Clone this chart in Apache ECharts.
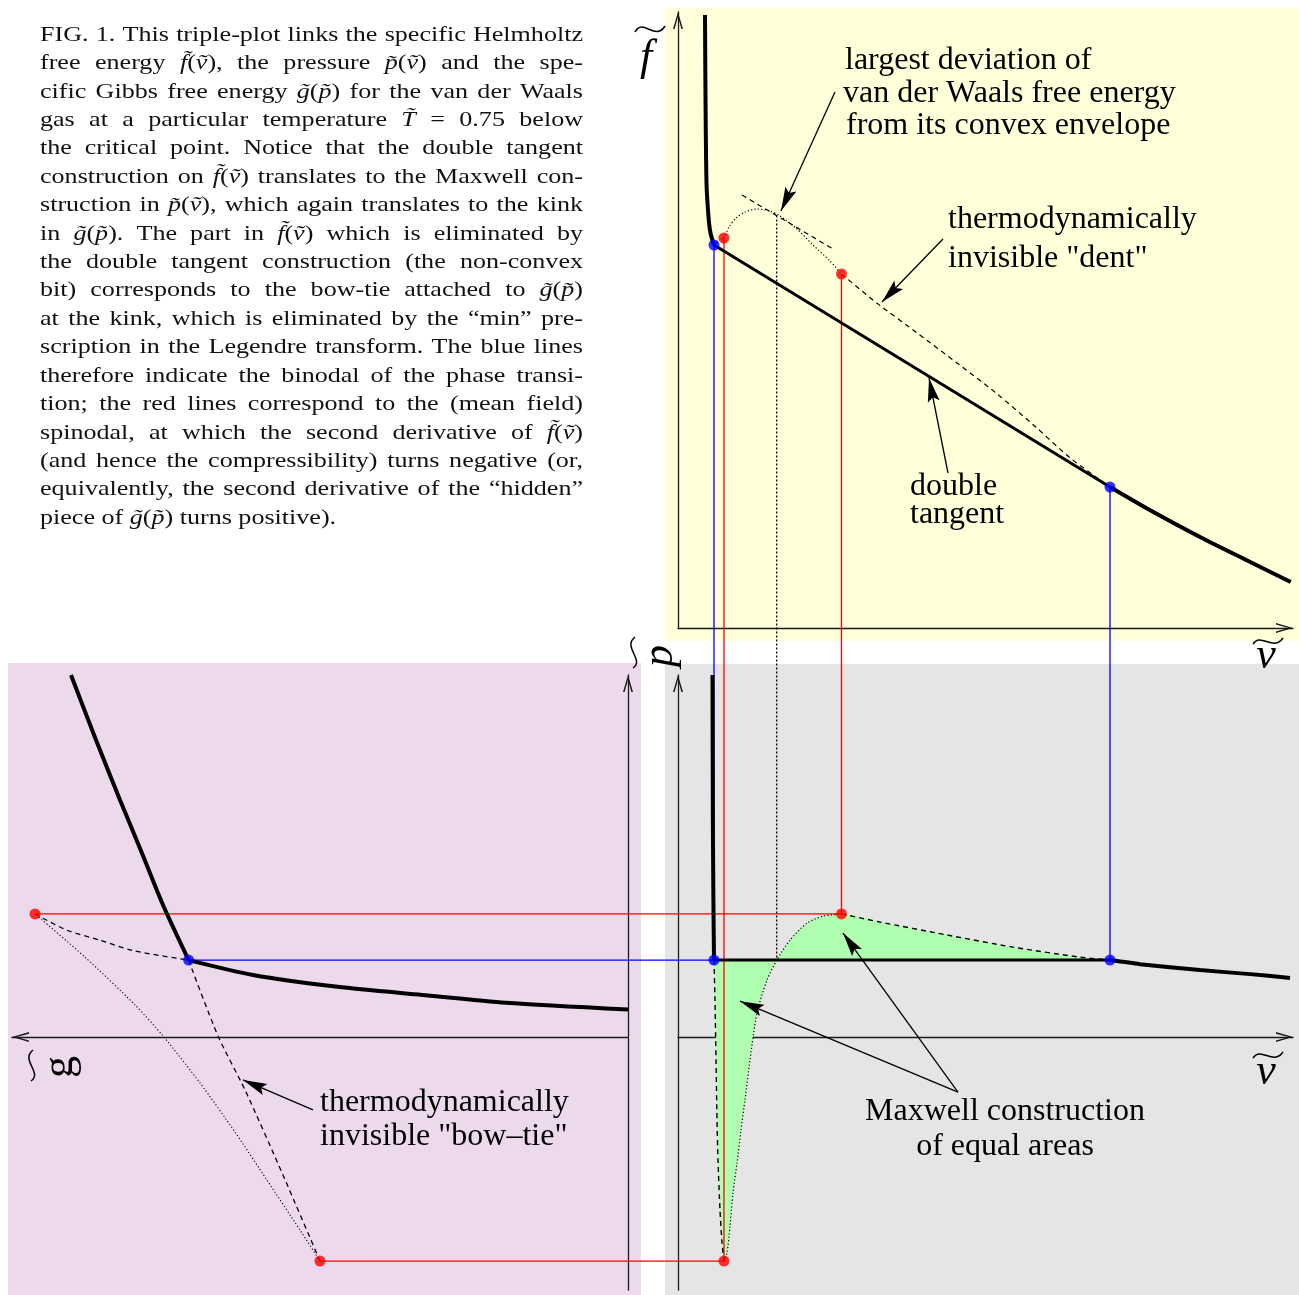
<!DOCTYPE html>
<html>
<head>
<meta charset="utf-8" />
<title>van der Waals triple plot</title>
<script src="https://cdn.jsdelivr.net/npm/echarts@6.0.0/dist/echarts.min.js"></script>
<style>
  html, body { margin: 0; padding: 0; background: #fff; }
  #main { width: 1299px; height: 1295px; }
</style>
</head>
<body>
<div id="main"></div>
<script>
// ---- f~(v~) panel : [v, f] ----
var fLiquid = [[0.36, 6.13], [0.367, 5.28], [0.38, 4.45], [0.407, 4.11], [0.433, 3.95], [0.48, 3.83]];
var fGas = [[5.76, 1.41], [6.29, 1.18], [6.96, 0.91], [7.63, 0.66], [8.17, 0.46]];
var fMetaLiquid = [[0.48, 3.83], [0.547, 3.88], [0.613, 3.90]];
var fUnstable = [[0.613, 3.90], [0.68, 4.01], [0.773, 4.10], [0.893, 4.16], [1.053, 4.19], [1.227, 4.17],
  [1.36, 4.12], [1.587, 3.99], [1.8, 3.83], [2.027, 3.67], [2.18, 3.54]];
var fMetaGas = [[2.18, 3.54], [2.65, 3.25], [3.19, 2.95], [3.72, 2.65], [4.24, 2.35], [4.77, 2.01], [5.23, 1.70], [5.76, 1.41]];
var fDevTangent = [[0.853, 4.33], [2.067, 3.79]];
var fBinodal = [[0.48, 3.83], [5.76, 1.41]];
var fSpinodal = [[0.613, 3.90], [2.18, 3.54]];
var fMaxDev = [1.316, 4.125];

// ---- p~(v~) panel : [v, p] ----
var pLiquid = [[0.46, 1.341], [0.465, 0.80], [0.472, 0.51], [0.48, 0.285]];
var pGas = [[5.76, 0.285], [6.16, 0.270], [6.96, 0.248], [7.63, 0.233], [8.16, 0.219]];
var pMetaLiquid = [[0.48, 0.285], [0.493, 0.137], [0.507, -0.085], [0.52, -0.307], [0.533, -0.456],
  [0.56, -0.641], [0.587, -0.763], [0.613, -0.83]];
var pUnstable = [[0.613, -0.83], [0.653, -0.80], [0.693, -0.704], [0.733, -0.578], [0.787, -0.467],
  [0.84, -0.344], [0.893, -0.233], [0.96, -0.085], [1.053, 0.089], [1.187, 0.211], [1.316, 0.285],
  [1.493, 0.359], [1.72, 0.422], [1.933, 0.448], [2.18, 0.456]];
var pMetaGas = [[2.18, 0.456], [2.693, 0.426], [3.587, 0.378], [4.467, 0.333], [5.36, 0.296], [5.76, 0.285]];
var pBinodal = [[0.48, 0.285], [5.76, 0.285]];
var pSpinodal = [[0.613, -0.83], [2.18, 0.456]];
var pMaxDev = [1.316, 0.285];

// ---- g~(p~) panel : [g, p] ----
var gLiquid = [[5.57, 1.341], [5.32, 1.10], [5.08, 0.878], [4.86, 0.681], [4.65, 0.489], [4.394, 0.285]];
var gGas = [[4.394, 0.285], [3.75, 0.230], [2.904, 0.186], [2.06, 0.156], [1.22, 0.127], [0, 0.102]];
var gMetaGas = [[5.93, 0.456], [5.613, 0.396], [5.28, 0.359], [4.95, 0.320], [4.394, 0.285]];
var gMetaLiquid = [[4.394, 0.285], [4.10, 0.004], [3.83, -0.196], [3.45, -0.511], [3.08, -0.83]];
var gUnstable = [[3.08, -0.83], [3.28, -0.715], [3.61, -0.530], [3.93, -0.352], [4.28, -0.170],
  [4.65, 0.004], [4.93, 0.119], [5.43, 0.296], [5.93, 0.456]];
var gBinodal = [4.394, 0.285];
var gSpinodal = [[3.08, -0.83], [5.93, 0.456]];

// annotation pointers [tail, tip] in panel units
var fPointers = [[[2.093, 5.36], [1.373, 4.17]], [[3.533, 3.89], [2.72, 3.26]], [[3.6, 1.55], [3.347, 2.50]]];
var pPointers = [[[3.733, -0.204], [0.827, 0.133]], [[3.733, -0.204], [2.2, 0.385]]];
var gPointers = [[[3.15, -0.27], [3.85, -0.159]]];

var noteLines = ['largest deviation of', 'van der Waals free energy', 'from its convex envelope',
  'thermodynamically', 'invisible "dent"', 'double', 'tangent',
  'Maxwell construction', 'of equal areas', 'thermodynamically', 'invisible "bow\u2013tie"'];

var capLines = [
  'FIG. 1. This triple-plot links the specific Helmholtz',
  'free energy *f\u0303*(*v\u0303*), the pressure *p\u0303*(*v\u0303*) and the spe-',
  'cific Gibbs free energy *g\u0303*(*p\u0303*) for the van der Waals',
  'gas at a particular temperature *T\u0303* = 0.75 below',
  'the critical point. Notice that the double tangent',
  'construction on *f\u0303*(*v\u0303*) translates to the Maxwell con-',
  'struction in *p\u0303*(*v\u0303*), which again translates to the kink',
  'in *g\u0303*(*p\u0303*). The part in *f\u0303*(*v\u0303*) which is eliminated by',
  'the double tangent construction (the non-convex',
  'bit) corresponds to the bow-tie attached to *g\u0303*(*p\u0303*)',
  'at the kink, which is eliminated by the \u201cmin\u201d pre-',
  'scription in the Legendre transform. The blue lines',
  'therefore indicate the binodal of the phase transi-',
  'tion; the red lines correspond to the (mean field)',
  'spinodal, at which the second derivative of *f\u0303*(*v\u0303*)',
  '(and hence the compressibility) turns negative (or,',
  'equivalently, the second derivative of the \u201chidden\u201d',
  'piece of *g\u0303*(*p\u0303*) turns positive).'
];

var BLUE = '#0000ff', RED = '#ff0000', INK = '#000';
var DOTTED = [1.2, 2.2], DASHED = [5, 4];
var CHEVRON = 'path://M0,17 L5,0 L10,17 L8.4,17 L5,4.8 L1.6,17 Z';
var ARROWHEAD = 'path://M5,0 L10,22 L5,18 L0,22 Z';
var SERIF = '"Liberation Serif", "Times New Roman", serif';

function curve(grid, data, width, type, smooth) {
  return { type: 'line', xAxisIndex: grid, yAxisIndex: grid, data: data, symbol: 'none', clip: false,
    silent: true, z: 3, emphasis: { disabled: true }, smooth: smooth || false,
    lineStyle: { color: INK, width: width, type: type || 'solid' } };
}
function dots(grid, data, color) {
  return { type: 'scatter', xAxisIndex: grid, yAxisIndex: grid, data: data, symbolSize: 11, clip: false,
    silent: true, z: 6, itemStyle: { color: color } };
}
function pointers(grid, list) {
  return { type: 'line', xAxisIndex: grid, yAxisIndex: grid, data: [], symbol: 'none', silent: true, z: 4,
    markLine: { silent: true, animation: false, symbol: ['none', 'none'], label: { show: false },
      emphasis: { disabled: true }, lineStyle: { color: INK, width: 1.3, type: 'solid' },
      data: list.map(function (a) {
        return [{ coord: a[0] }, { coord: a[1], symbol: ARROWHEAD, symbolSize: [12, 24], symbolOffset: [0, 12] }];
      }) } };
}
function axis(grid, min, max, extra) {
  var a = { gridIndex: grid, type: 'value', min: min, max: max, splitLine: { show: false },
    axisTick: { show: false }, axisLabel: { show: false },
    axisLine: { show: true, onZero: true, lineStyle: { color: '#1a1a1a', width: 1.3 },
      symbol: ['none', CHEVRON], symbolSize: [10, 17], symbolOffset: [0, -8.5] } };
  return Object.assign(a, extra || {});
}

var chart = echarts.init(document.getElementById('main'));

// caption, justified line by line; glyphs widened a little to fill the column like the original
var ctx = document.createElement('canvas').getContext('2d');
var CAP = '22px ' + SERIF, CAPI = 'italic 22px ' + SERIF;
function wOf(p) { ctx.font = p.it ? CAPI : CAP; return ctx.measureText(p.s).width; }
var capWords = capLines.map(function (line) {
  return line.split(' ').map(function (w) {
    return w.split('*').map(function (s, k) { return { s: s, it: k % 2 === 1 }; }).filter(function (p) { return p.s; });
  });
});
var space = wOf({ s: ' ', it: false });
var widest = 0;
capWords.forEach(function (words, i) {
  if (i === capWords.length - 1) return;
  var t = space * (words.length - 1);
  words.forEach(function (w) { w.forEach(function (p) { t += wOf(p); }); });
  widest = Math.max(widest, t);
});
var sx = Math.min(1.2, 538 / widest);
var captionEls = [];
capWords.forEach(function (words, i) {
  var total = 0;
  words.forEach(function (w) { w.forEach(function (p) { total += wOf(p) * sx; }); });
  var last = i === capWords.length - 1;
  var gap = last ? space * sx : (543 - total) / (words.length - 1);
  var x = 40, y = 35 + i * 28.41;
  words.forEach(function (w) {
    w.forEach(function (p) {
      captionEls.push({ type: 'text', x: x, y: y, scaleX: sx, silent: true,
        style: { text: p.s, font: p.it ? CAPI : CAP, fill: '#111', align: 'left', verticalAlign: 'middle' } });
      x += wOf(p) * sx;
    });
    x += gap;
  });
});

var notePos = [[845, 61], [843, 94], [846, 126], [948, 220], [948, 259], [910, 487], [910, 515],
  [1005, 1112, 'center'], [1005, 1147, 'center'], [320, 1103], [320, 1137]];
var noteEls = noteLines.map(function (t, i) {
  return { type: 'text', x: notePos[i][0], y: notePos[i][1], silent: true,
    style: { text: t, font: '32px ' + SERIF, fill: INK, align: notePos[i][2] || 'left', verticalAlign: 'middle' } };
});

function letter(ch, x, y, rot, upright) {
  return { type: 'text', x: x, y: y, rotation: rot || 0, silent: true,
    style: { text: ch, font: (upright ? '' : 'italic ') + '44px ' + SERIF, fill: INK, align: 'center', verticalAlign: 'middle' } };
}
function tilde(x1, y1, c1x, c1y, c2x, c2y, x2, y2) {
  return { type: 'bezierCurve', silent: true,
    shape: { x1: x1, y1: y1, cpx1: c1x, cpy1: c1y, cpx2: c2x, cpy2: c2y, x2: x2, y2: y2 },
    style: { stroke: INK, lineWidth: 1.5, fill: null } };
}

var backdrops = [
  { type: 'rect', z: -10, silent: true, shape: { x: 665, y: 8, width: 634, height: 633 }, style: { fill: '#ffffd9' } },
  { type: 'rect', z: -10, silent: true, shape: { x: 665, y: 664, width: 634, height: 631 }, style: { fill: '#e5e5e5' } },
  { type: 'rect', z: -10, silent: true, shape: { x: 8, y: 663, width: 633, height: 632 }, style: { fill: '#ecd9ec' } }
];

var labels = [
  letter('f', 646, 58), tilde(635, 32, 643, 17, 655, 42, 665, 26),
  letter('v', 1266, 656), tilde(1253, 644, 1261, 632, 1273, 652, 1283, 638),
  letter('v', 1266, 1072), tilde(1253, 1058, 1261, 1046, 1273, 1066, 1283, 1052),
  letter('p', 660, 656, Math.PI / 2), tilde(633, 668, 645, 660, 622, 647, 635, 637),
  letter('g', 60, 1067, Math.PI / 2, true), tilde(31, 1081, 43, 1073, 20, 1060, 33, 1050)
];

var pLoop = pMetaLiquid.concat(pUnstable.slice(1), pMetaGas.slice(1));
var SM = 0.25;

var series = [
  // f~(v~)
  curve(0, fMetaLiquid, 1.2, DASHED),
  curve(0, fUnstable, 1.2, DOTTED, SM),
  curve(0, fMetaGas, 1.2, DASHED, SM),
  curve(0, fDevTangent, 1.2, DASHED),
  curve(0, fLiquid, 4, 'solid', SM),
  curve(0, fBinodal, 3),
  curve(0, fGas, 4, 'solid', SM),
  dots(0, fBinodal, BLUE),
  dots(0, fSpinodal, RED),
  pointers(0, fPointers),
  // p~(v~)
  { type: 'line', xAxisIndex: 1, yAxisIndex: 1, data: pLoop, symbol: 'none', clip: false, silent: true, z: 1,
    smooth: SM, lineStyle: { width: 0, opacity: 0 },
    areaStyle: { color: '#b0ffb0', opacity: 1, origin: pBinodal[0][1] } },
  curve(1, pMetaLiquid, 1.4, DASHED, SM),
  curve(1, pUnstable, 1.2, DOTTED, SM),
  curve(1, pMetaGas, 1.4, DASHED, SM),
  curve(1, pLiquid, 4, 'solid', SM),
  curve(1, pBinodal, 3),
  curve(1, pGas, 4, 'solid', SM),
  dots(1, pBinodal, BLUE),
  dots(1, pSpinodal, RED),
  pointers(1, pPointers),
  // g~(p~)
  curve(2, gMetaGas, 1.3, DASHED, SM),
  curve(2, gMetaLiquid, 1.3, DASHED, SM),
  curve(2, gUnstable, 1.1, DOTTED, SM),
  curve(2, gLiquid, 4, 'solid', SM),
  curve(2, gGas, 4, 'solid', SM),
  dots(2, [gBinodal], BLUE),
  dots(2, gSpinodal, RED),
  pointers(2, gPointers)
];

var option = {
  animation: false,
  backgroundColor: '#fff',
  grid: [
    { left: 678, right: 6, top: 12, bottom: 667, outerBoundsMode: 'none' },
    { left: 678, right: 6, top: 675, bottom: 5, outerBoundsMode: 'none' },
    { left: 12, right: 671, top: 675, bottom: 5, outerBoundsMode: 'none' },
    { left: 0, right: 0, top: 0, bottom: 0, outerBoundsMode: 'none' }
  ],
  xAxis: [
    axis(0, 0, 8.2),
    axis(1, 0, 8.2),
    axis(2, 0, 6.16, { inverse: true, axisLine: { show: true, onZero: true, lineStyle: { color: '#1a1a1a', width: 1.3 },
      symbol: [CHEVRON, 'none'], symbolSize: [10, 17], symbolOffset: [8.5, 0] } }),
    { gridIndex: 3, type: 'value', min: 0, max: 1299, show: false }
  ],
  yAxis: [
    axis(0, 0, 6.16),
    axis(1, -0.937, 1.341),
    axis(2, -0.937, 1.341),
    { gridIndex: 3, type: 'value', min: 0, max: 1295, inverse: true, show: false }
  ],
  graphic: { elements: backdrops.concat(captionEls, noteEls, labels) },
  series: series
};
chart.setOption(option);

// connectors between panels: endpoints taken through each panel's scales
var links = [
  [0, fBinodal[0], 1, pBinodal[0], BLUE, 'solid'],
  [0, fSpinodal[0], 1, pSpinodal[0], RED, 'solid'],
  [0, fMaxDev, 1, pMaxDev, INK, [2, 2]],
  [0, fSpinodal[1], 1, pSpinodal[1], RED, 'solid'],
  [0, fBinodal[1], 1, pBinodal[1], BLUE, 'solid'],
  [2, gSpinodal[1], 1, pSpinodal[1], RED, 'solid'],
  [2, gBinodal, 1, pBinodal[0], BLUE, 'solid'],
  [2, gSpinodal[0], 1, pSpinodal[0], RED, 'solid']
];
var linkSeries = links.map(function (l) {
  var a = chart.convertToPixel({ gridIndex: l[0] }, l[1]);
  var b = chart.convertToPixel({ gridIndex: l[2] }, l[3]);
  return { type: 'line', xAxisIndex: 3, yAxisIndex: 3, data: [a, b], symbol: 'none', clip: false, silent: true, z: 2,
    lineStyle: { color: l[4], width: 1.3, type: l[5] } };
});
option.series = series.concat(linkSeries);
chart.setOption(option, true);
</script>
</body>
</html>
